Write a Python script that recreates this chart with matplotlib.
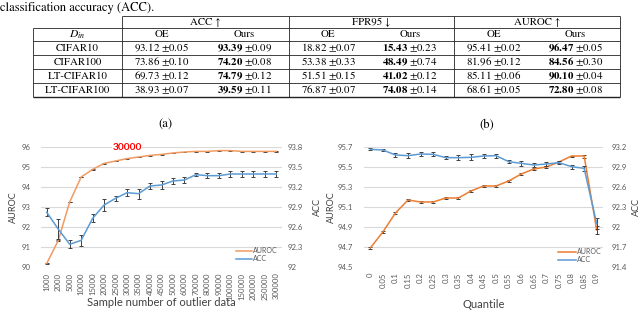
import numpy as np
import matplotlib
matplotlib.use("Agg")
import matplotlib.pyplot as plt
from matplotlib.ticker import FixedLocator

# ---------------- table data ----------------
datasets = ["CIFAR10", "CIFAR100", "LT-CIFAR10", "LT-CIFAR100"]
metrics = ["ACC ↑", "FPR95 ↓", "AUROC ↑"]
methods = ["OE", "Ours"]
acc_oe = [93.12, 73.86, 69.73, 38.93]
acc_oe_std = [0.05, 0.10, 0.12, 0.07]
acc_ours = [93.39, 74.20, 74.79, 39.59]
acc_ours_std = [0.09, 0.08, 0.12, 0.11]
fpr_oe = [18.82, 53.38, 51.51, 76.87]
fpr_oe_std = [0.07, 0.33, 0.15, 0.07]
fpr_ours = [15.43, 48.49, 41.02, 74.08]
fpr_ours_std = [0.23, 0.74, 0.12, 0.14]
auroc_oe = [95.41, 81.96, 85.11, 68.61]
auroc_oe_std = [0.02, 0.12, 0.06, 0.05]
auroc_ours = [96.47, 84.56, 90.10, 72.80]
auroc_ours_std = [0.05, 0.30, 0.04, 0.08]

# ---------------- chart (a) data ----------------
sample_labels = ["1000", "2000", "5000", "10000", "15000", "20000", "25000",
                 "30000", "35000", "40000", "45000", "50000", "60000", "70000",
                 "80000", "90000", "100000", "150000", "200000", "250000", "300000"]
a_auroc = [90.18, 91.32, 93.25, 94.50, 94.88, 95.18, 95.30, 95.42, 95.50, 95.58,
           95.63, 95.70, 95.75, 95.78, 95.78, 95.82, 95.82, 95.78, 95.78, 95.78, 95.78]
a_auroc_err = [0.02] * 21
a_acc = [92.82, 92.57, 92.34, 92.40, 92.73, 92.93, 93.03, 93.115, 93.10, 93.215,
         93.23, 93.29, 93.305, 93.385, 93.37, 93.37, 93.395, 93.395, 93.395, 93.395, 93.395]
a_acc_err = [0.06, 0.15, 0.06, 0.08, 0.06, 0.09, 0.04, 0.05, 0.075, 0.05,
             0.06, 0.04, 0.045, 0.02, 0.04, 0.04, 0.045, 0.04, 0.04, 0.04, 0.04]
a_highlight = "30000"

# ---------------- chart (b) data ----------------
quantile_labels = ["0", "0.05", "0.1", "0.15", "0.2", "0.25", "0.3", "0.35", "0.4",
                   "0.45", "0.5", "0.55", "0.6", "0.65", "0.7", "0.75", "0.8", "0.85", "0.9"]
b_auroc = [94.69, 94.85, 95.04, 95.17, 95.15, 95.15, 95.19, 95.19, 95.26, 95.31,
           95.31, 95.36, 95.43, 95.48, 95.50, 95.55, 95.61, 95.61, 94.87]
b_auroc_err = [0.01, 0.01, 0.01, 0.01, 0.01, 0.01, 0.01, 0.01, 0.01, 0.01,
               0.01, 0.01, 0.01, 0.01, 0.01, 0.01, 0.005, 0.015, 0.04]
b_acc = [93.165, 93.155, 93.08, 93.07, 93.095, 93.09, 93.04, 93.04, 93.045, 93.065,
         93.07, 92.98, 92.955, 92.93, 92.945, 92.965, 92.905, 92.88, 92.05]
b_acc_err = [0.015, 0.02, 0.03, 0.035, 0.035, 0.03, 0.02, 0.04, 0.045, 0.035,
             0.03, 0.025, 0.035, 0.035, 0.03, 0.02, 0.03, 0.04, 0.08]

# ---------------- style ----------------
plt.rcParams['font.family'] = ['Lato', 'DejaVu Sans']
plt.rcParams['mathtext.fontset'] = 'stix'
W, H = 640, 312
fig = plt.figure(figsize=(W / 100, H / 100), dpi=100)
TXT = '#595959'
GRID = '#D9D9D9'
ERR = '#404040'
SERIF = ['STIXGeneral', 'Liberation Serif', 'DejaVu Serif']

def px_rect(l, t, r, b):
    return [l / W, 1 - b / H, (r - l) / W, (b - t) / H]

# ---------------- overlay (table + captions) ----------------
ov = fig.add_axes([0, 0, 1, 1])
ov.set_xlim(0, W)
ov.set_ylim(H, 0)
ov.axis('off')

ov.text(0, 11, "classification accuracy (ACC).", family=SERIF, fontsize=9,
        ha='left', va='baseline', color='black')

tl = 33
vb = [122, 289, 454, 620]
y_top, y_h1, y_h2 = 16, 28, 41
row_lines = [55, 69, 83]
y_bot = 97
lc = '#222222'
ov.hlines(y_top, vb[0], vb[-1], color=lc, lw=0.6)
ov.hlines([y_h1, y_h2] + row_lines, tl, vb[-1], color=lc, lw=0.6)
ov.hlines(y_bot, tl, vb[-1], color=lc, lw=1.0)
ov.vlines(tl, y_h1, y_bot, color=lc, lw=0.6)
ov.vlines(vb, y_top, y_bot, color=lc, lw=0.6)

fs_t = 7.8
y_rows = [48, 62, 76, 90]
sections = [(acc_oe, acc_oe_std, acc_ours, acc_ours_std),
            (fpr_oe, fpr_oe_std, fpr_ours, fpr_ours_std),
            (auroc_oe, auroc_oe_std, auroc_ours, auroc_ours_std)]
ov.text((tl + vb[0]) / 2, 34.5, r"$D_{in}$", fontsize=fs_t + 0.5, ha='center', va='center')
for i, (name, sec) in enumerate(zip(metrics, sections)):
    a, b = vb[i], vb[i + 1]
    ov.text((a + b) / 2, 22, name, family=SERIF, fontsize=fs_t, ha='center', va='center')
    c_oe = a + 0.25 * (b - a) - 2
    c_ours = a + 0.75 * (b - a) - 3
    ov.text(c_oe, 34.5, methods[0], family=SERIF, fontsize=fs_t, ha='center', va='center')
    ov.text(c_ours, 34.5, methods[1], family=SERIF, fontsize=fs_t, ha='center', va='center')
    oe, oe_s, ours, ours_s = sec
    for r, y in enumerate(y_rows):
        ov.text(c_oe, y, rf"${oe[r]:.2f}\ {{\pm}}{oe_s[r]:.2f}$", fontsize=fs_t,
                ha='center', va='center')
        ov.text(c_ours, y, rf"$\mathbf{{{ours[r]:.2f}}}\ {{\pm}}{ours_s[r]:.2f}$",
                fontsize=fs_t, ha='center', va='center')
for r, y in enumerate(y_rows):
    ov.text((tl + vb[0]) / 2, y, datasets[r], family=SERIF, fontsize=fs_t,
            ha='center', va='center')

ov.text(165, 125, "(a)", family=SERIF, fontsize=9, ha='center', va='center')
ov.text(487, 125, "(b)", family=SERIF, fontsize=9, ha='center', va='center')


def style_axes(ax, ax2, labels, lpad, rpad):
    for a in (ax, ax2):
        for s in a.spines.values():
            s.set_visible(False)
        a.tick_params(length=0, labelsize=5.6, colors=TXT)
    ax.tick_params(axis='y', pad=lpad)
    ax2.tick_params(axis='y', pad=rpad)
    ax.tick_params(axis='x', pad=4, labelrotation=90)
    ax.set_xticks(range(len(labels)))
    ax.set_xticklabels(labels)
    ax.set_xlim(-0.5, len(labels) - 0.5)
    ax.grid(axis='y', color=GRID, lw=0.8)
    ax.set_axisbelow(True)


def fmt(v):
    return f"{v:.1f}".rstrip('0').rstrip('.')


def series(ax, x, y, err, color, label):
    c = ax.errorbar(x, y, yerr=err, color=color, lw=1.1, ecolor=ERR,
                    elinewidth=0.7, capsize=1.6, capthick=0.7)
    line = c.lines[0]
    line.set_label(label)
    return line


# ---------------- chart (a) ----------------
axa = fig.add_axes(px_rect(41, 147, 282, 267))
axa2 = axa.twinx()
xa = np.arange(len(sample_labels))
orange_a = '#F19A62'
blue = '#5B9BD5'
la1 = series(axa, xa, a_auroc, a_auroc_err, orange_a, 'AUROC')
la2 = series(axa2, xa, a_acc, a_acc_err, blue, 'ACC')
axa.set_ylim(90, 96)
lt = np.arange(90, 96.01, 1)
axa.yaxis.set_major_locator(FixedLocator(lt))
axa.set_yticklabels([fmt(v) for v in lt])
axa2.set_ylim(92, 93.8)
rt = np.linspace(92, 93.8, 7)
axa2.yaxis.set_major_locator(FixedLocator(rt))
axa2.set_yticklabels([fmt(v) for v in rt])
style_axes(axa, axa2, sample_labels, 7.5, 4.3)
axa.set_xlabel("Sample number of outlier data", fontsize=8, color='#404040', va='center')
axa.xaxis.set_label_coords(0.5, (H - 303 - (H - 267)) / 120)
axa.set_ylabel("AUROC", fontsize=6.6, color='#404040', va='center')
axa.yaxis.set_label_coords((13 - 41) / 241, 0.5)
axa2.set_ylabel("ACC", fontsize=6.6, color='#404040', va='center', rotation=90)
axa2.yaxis.set_label_coords((317 - 41) / 241, 0.5)
axa.text(sample_labels.index(a_highlight), 96, a_highlight, color='#FF0000',
         fontsize=7.3, fontweight='bold', ha='center', va='center',
         bbox=dict(facecolor='white', edgecolor='none', pad=0.3))
axa2.legend([la1, la2], [la1.get_label(), la2.get_label()], loc='upper left',
            bbox_to_anchor=(236 / W, 1 - 247 / H), bbox_transform=fig.transFigure,
            frameon=False, fontsize=5, borderpad=0, borderaxespad=0,
            handlelength=2.3, handletextpad=0.15, labelspacing=0.2,
            labelcolor=TXT)

# ---------------- chart (b) ----------------
axb = fig.add_axes(px_rect(364, 147, 603, 267))
axb2 = axb.twinx()
xb = np.arange(len(quantile_labels))
orange_b = '#ED7D31'
lb1 = series(axb, xb, b_auroc, b_auroc_err, orange_b, 'AUROC')
lb2 = series(axb2, xb, b_acc, b_acc_err, blue, 'ACC')
axb.set_ylim(94.5, 95.7)
lt = np.linspace(94.5, 95.7, 7)
axb.yaxis.set_major_locator(FixedLocator(lt))
axb.set_yticklabels([fmt(v) for v in lt])
axb2.set_ylim(91.4, 93.2)
rt = np.linspace(91.4, 93.2, 7)
axb2.yaxis.set_major_locator(FixedLocator(rt))
axb2.set_yticklabels([fmt(v) for v in rt])
style_axes(axb, axb2, quantile_labels, 8, 6.5)
axb.set_xlabel("Quantile", fontsize=8, color='#404040', va='center')
axb.xaxis.set_label_coords(0.5, (H - 304 - (H - 267)) / 120)
axb.set_ylabel("AUROC", fontsize=6.6, color='#404040', va='center')
axb.yaxis.set_label_coords((331 - 364) / 239, 0.5)
axb2.set_ylabel("ACC", fontsize=6.6, color='#404040', va='center', rotation=90)
axb2.yaxis.set_label_coords((636 - 364) / 239, 0.5)
axb2.legend([lb1, lb2], [lb1.get_label(), lb2.get_label()], loc='upper left',
            bbox_to_anchor=(558 / W, 1 - 248 / H), bbox_transform=fig.transFigure,
            frameon=False, fontsize=5, borderpad=0, borderaxespad=0,
            handlelength=2.6, handletextpad=0.15, labelspacing=0.2,
            labelcolor=TXT)

fig.savefig("out.png", dpi=100, facecolor='white')
